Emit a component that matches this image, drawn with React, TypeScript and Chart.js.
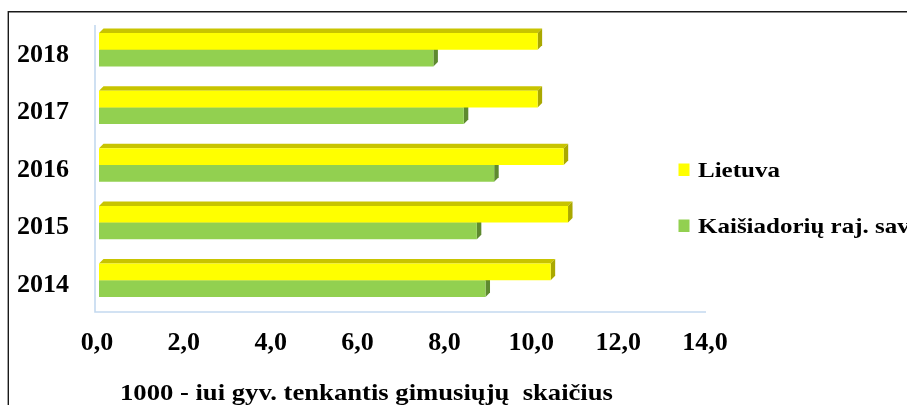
import React, { useEffect, useRef } from "react";
import { Chart, registerables } from "chart.js";

Chart.register(...registerables);

// ---- data ----
const years = ["2018", "2017", "2016", "2015", "2014"];
const lietuva = [10.1, 10.1, 10.7, 10.8, 10.4];
const kaisiadorys = [7.7, 8.4, 9.1, 8.7, 8.9];
const seriesNames = ["Lietuva", "Kaišiadorių raj. sav"];
const xTickLabels = ["0,0", "2,0", "4,0", "6,0", "8,0", "10,0", "12,0", "14,0"];
const axisTitle = "1000 - iui gyv. tenkantis gimusiųjų  skaičius";

const FONT = "'Liberation Serif', 'Times New Roman', serif";
const frontColors = ["#ffff00", "#92d050"];
const topColors = ["#c8c400", "#6f9e3a"];
const sideColors = ["#aaa800", "#5e8a2f"];

const framePlugin = {
  id: "frame",
  beforeDraw(chart: any) {
    const ctx = chart.ctx;
    ctx.save();
    ctx.fillStyle = "#ffffff";
    ctx.fillRect(0, 0, chart.width, chart.height);
    ctx.strokeStyle = "#1a1a1a";
    ctx.lineWidth = 1.4;
    ctx.beginPath();
    ctx.moveTo(8.3, chart.height);
    ctx.lineTo(8.3, 11.7);
    ctx.lineTo(chart.width, 11.7);
    ctx.stroke();
    ctx.restore();
  },
};

const depthPlugin = {
  id: "depth",
  beforeDatasetsDraw(chart: any) {
    const ctx = chart.ctx;
    const { left, right, top, bottom } = chart.chartArea;
    ctx.save();
    // wall / floor lines
    ctx.strokeStyle = "#c3d9ef";
    ctx.lineWidth = 1.6;
    ctx.beginPath();
    ctx.moveTo(left - 4, top + 4);
    ctx.lineTo(left - 4, bottom + 3);
    ctx.lineTo(right - 1, bottom + 3);
    ctx.stroke();

    const d = 4.5;
    chart.data.datasets.forEach((ds: any, i: number) => {
      const meta = chart.getDatasetMeta(i);
      meta.data.forEach((bar: any) => {
        const p = bar.getProps(["x", "y", "base", "height"], true);
        const t = p.y - p.height / 2;
        const b = p.y + p.height / 2;
        ctx.fillStyle = topColors[i];
        ctx.beginPath();
        ctx.moveTo(p.base, t);
        ctx.lineTo(p.base + d, t - d);
        ctx.lineTo(p.x + d, t - d);
        ctx.lineTo(p.x, t);
        ctx.closePath();
        ctx.fill();
        ctx.fillStyle = sideColors[i];
        ctx.beginPath();
        ctx.moveTo(p.x, t);
        ctx.lineTo(p.x + d, t - d);
        ctx.lineTo(p.x + d, b - d);
        ctx.lineTo(p.x, b);
        ctx.closePath();
        ctx.fill();
      });
    });
    ctx.restore();
  },
};

const legendTitlePlugin = {
  id: "legendTitle",
  afterDraw(chart: any) {
    const ctx = chart.ctx;
    const { left, right, top, bottom } = chart.chartArea;
    ctx.save();
    ctx.fillStyle = "#000";
    // axis title (horizontally widened like the original)
    ctx.font = `bold 24px ${FONT}`;
    ctx.textAlign = "left";
    ctx.textBaseline = "alphabetic";
    ctx.save();
    ctx.translate(left + 21, bottom + 90.5);
    ctx.scale(1.11, 1);
    ctx.fillText(axisTitle, 0, 0);
    ctx.restore();
    // legend
    chart.data.datasets.forEach((ds: any, i: number) => {
      ctx.fillStyle = frontColors[i];
      ctx.fillRect(right - 28.5, top + 142.5 + i * 56, 11, 12.5);
      ctx.fillStyle = "#000";
      ctx.font = `bold 21px ${FONT}`;
      ctx.save();
      ctx.translate(right - 9, top + 155.7 + i * 56);
      ctx.scale(1.19, 1);
      ctx.fillText(ds.label, 0, 0);
      ctx.restore();
    });
    ctx.restore();
  },
};

export default function App() {
  const ref = useRef<HTMLCanvasElement | null>(null);
  useEffect(() => {
    document.body.style.margin = "0";
    if (!ref.current) return;
    const chart = new Chart(ref.current, {
      type: "bar",
      data: {
        labels: years,
        datasets: [
          {
            label: seriesNames[0],
            data: lietuva,
            backgroundColor: frontColors[0],
            borderWidth: 0,
            categoryPercentage: 0.58,
            barPercentage: 1,
          },
          {
            label: seriesNames[1],
            data: kaisiadorys,
            backgroundColor: frontColors[1],
            borderWidth: 0,
            categoryPercentage: 0.58,
            barPercentage: 1,
          },
        ],
      },
      options: {
        indexAxis: "y",
        animation: false,
        responsive: false,
        maintainAspectRatio: false,
        layout: { padding: { top: 21, right: 200, left: 0, bottom: 0 } },
        plugins: {
          legend: { display: false },
          tooltip: { enabled: false },
        },
        scales: {
          x: {
            min: 0,
            max: 14,
            ticks: {
              stepSize: 2,
              color: "#000",
              font: { family: FONT, size: 26, weight: "bold" },
              padding: 11,
              labelOffset: -2,
              maxRotation: 0,
              callback: (_v: any, i: number) => xTickLabels[i],
            },
            grid: { display: false },
            border: { display: false },
            afterFit: (s: any) => {
              s.height = 96;
              s.paddingLeft = 0;
              s.paddingRight = 0;
            },
          },
          y: {
            ticks: {
              color: "#000",
              font: { family: FONT, size: 26, weight: "bold" },
              padding: 22,
              labelOffset: 5,
            },
            grid: { display: false },
            border: { display: false },
            afterFit: (s: any) => {
              s.width = 99;
              s.paddingTop = 0;
              s.paddingBottom = 0;
            },
          },
        },
      },
      plugins: [framePlugin, depthPlugin, legendTitlePlugin],
    } as any);
    return () => chart.destroy();
  }, []);
  return <canvas ref={ref} width={907} height={405} style={{ display: "block" }} />;
}
